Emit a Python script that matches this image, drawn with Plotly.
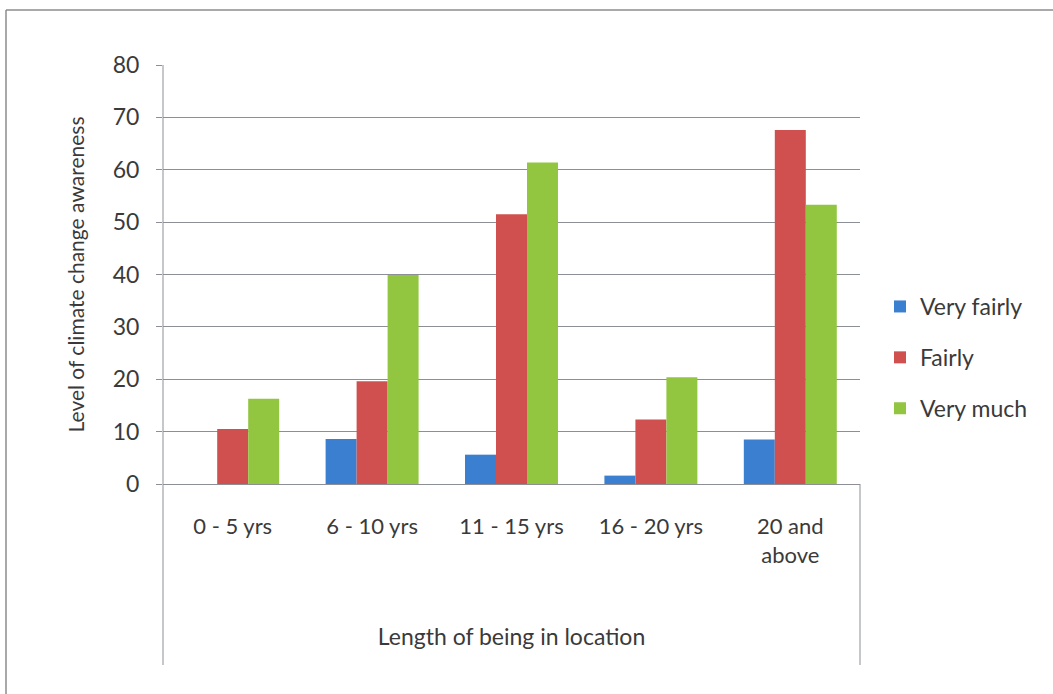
import plotly.graph_objects as go

categories = ["0 - 5 yrs", "6 - 10 yrs", "11 - 15 yrs", "16 - 20 yrs", "20 and<br>above"]
very_fairly = [0, 8.6, 5.6, 1.6, 8.5]
fairly = [10.5, 19.6, 51.5, 12.3, 67.6]
very_much = [16.3, 39.9, 61.4, 20.4, 53.3]

series = [
    ("Very fairly", very_fairly, "#3a7fd0"),
    ("Fairly", fairly, "#d0504f"),
    ("Very much", very_much, "#92c640"),
]

W, H = 1053, 694
L, R, T, B = 163, 860, 65, 484  # plot area in pixels

fig = go.Figure()
for name, vals, col in series:
    fig.add_trace(go.Bar(name=name, x=categories, y=vals, marker_color=col,
                         marker_line_width=0, legendgroup=name))

font_col = "#3a3a3a"
fnt = "Lato, 'Open Sans', sans-serif"
ph = B - T
pw = R - L

fig.update_layout(
    width=W, height=H,
    margin=dict(l=L, r=W - R, t=T, b=H - B),
    paper_bgcolor="white", plot_bgcolor="white",
    barmode="group", bargap=0.333, bargroupgap=0,
    font=dict(family=fnt, color=font_col),
    showlegend=True,
    legend=dict(x=(880 - L) / pw, y=(B - 285) / ph, xanchor="left", yanchor="top",
                font=dict(size=23, color=font_col), itemwidth=30, tracegroupgap=18,
                bgcolor="rgba(0,0,0,0)"),
)

fig.update_yaxes(range=[0, 80], dtick=10, showgrid=True, gridcolor="#8c8f96", gridwidth=1,
                 ticks="outside", ticklen=6, tickcolor="#8c8f96",
                 showline=False, zeroline=True, zerolinecolor="#8c8f96", zerolinewidth=1,
                 tickfont=dict(size=23, color=font_col), ticklabelstandoff=12,
                 title=dict(text="Level of climate change awareness", font=dict(size=21, color=font_col),
                            standoff=22))
fig.update_xaxes(showgrid=False, showline=False, ticks="",
                 tickfont=dict(size=22, color=font_col), ticklabelstandoff=27,
                 title=dict(text="Length of being in location", font=dict(size=23, color=font_col),
                            standoff=62))

bottom = -(665 - B) / ph
# plot area frame lines
fig.add_shape(type="line", xref="paper", yref="paper", x0=0, x1=0, y0=bottom, y1=1,
              line=dict(color="#8c8f96", width=1))
fig.add_shape(type="line", xref="paper", yref="paper", x0=1, x1=1, y0=bottom, y1=0,
              line=dict(color="#8c8f96", width=1))
# outer chart border
fig.add_shape(type="line", xref="paper", yref="paper", x0=-(L - 6) / pw, x1=(W - L) / pw,
              y0=(B - 10) / ph, y1=(B - 10) / ph, line=dict(color="#8c8c8c", width=1.5))
fig.add_shape(type="line", xref="paper", yref="paper", x0=-(L - 6) / pw, x1=-(L - 6) / pw,
              y0=(B - 10) / ph, y1=-(H - B) / ph, line=dict(color="#8c8c8c", width=1.5))

fig.write_html("out.html")
